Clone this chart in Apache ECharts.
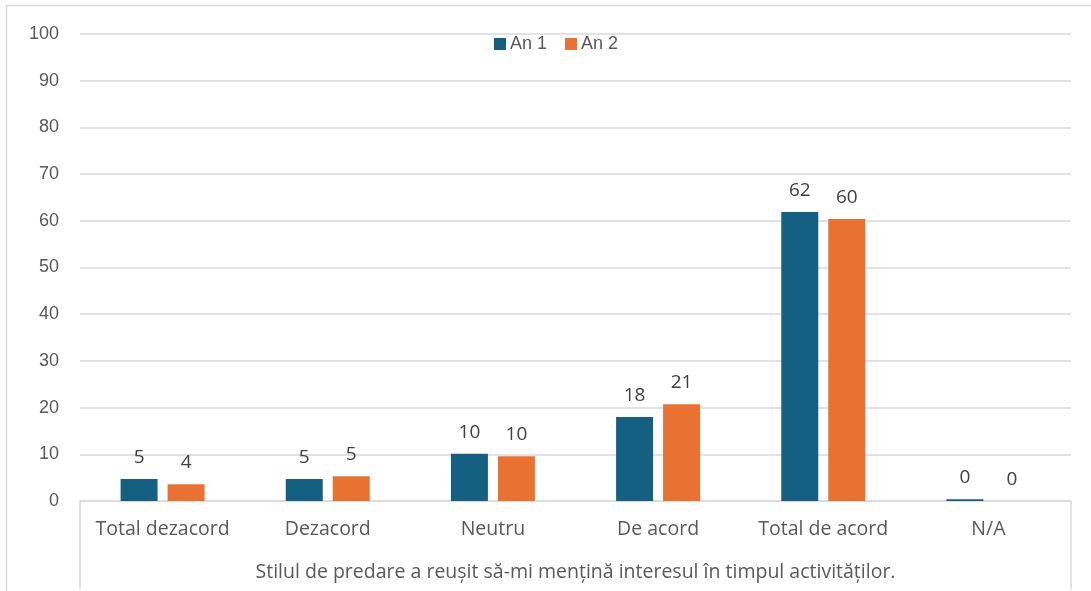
<!DOCTYPE html>
<html><head><meta charset="utf-8">
<script src="https://cdn.jsdelivr.net/npm/echarts@6/dist/echarts.min.js"></script>
<style>html,body{margin:0;padding:0;background:#fff}#c{width:1091px;height:591px}</style>
</head><body><div id="c"></div>
<script>
const categories = ['Total dezacord', 'Dezacord', 'Neutru', 'De acord', 'Total de acord', 'N/A'];
const groupLabel = ['Stilul de predare a reușit să-mi mențină interesul în timpul activităților.'];
const seriesNames = ['An 1', 'An 2'];
const an1 = [4.7, 4.7, 10.1, 18.0, 61.9, 0.4];
const an2 = [3.6, 5.3, 9.6, 20.7, 60.4, 0];
const yMin = 0, yMax = 100, yInterval = 10;

const FONT = '"Liberation Sans", Arial, sans-serif';
const FONT2 = '"Open Sans", Lato, sans-serif';
const chart = echarts.init(document.getElementById('c'));
const lbl = {
  show: true, position: 'top', distance: 12,
  fontSize: 19, color: '#404040', fontFamily: FONT2,
  formatter: p => String(Math.round(p.value))
};
chart.setOption({
  animation: false,
  backgroundColor: '#fff',
  graphic: [{
    type: 'rect', silent: true, z: -1,
    shape: { x: 6.5, y: 5.5, width: 1200, height: 700 },
    style: { fill: 'none', stroke: '#d9d9d9', lineWidth: 1.5 }
  }],
  legend: {
    top: 30, left: 489, itemWidth: 12, itemHeight: 12, itemGap: 18,
    icon: 'rect',
    textStyle: { fontSize: 18, color: '#595959', fontFamily: FONT, padding: [0, 0, 0, -1] },
    data: seriesNames
  },
  grid: { left: 80, right: 20, top: 34, bottom: 90, containLabel: false },
  xAxis: [{
    type: 'category', data: categories,
    axisLine: { show: false }, axisTick: { show: false },
    axisLabel: { fontSize: 19.5, color: '#595959', margin: 18, fontFamily: FONT2, interval: 0 }
  }, {
    type: 'category', data: groupLabel, position: 'bottom',
    axisLine: { show: true, lineStyle: { color: '#d9d9d9', width: 1.5 } },
    axisTick: { show: true, length: 88, alignWithLabel: false, lineStyle: { color: '#d9d9d9', width: 1.5 } },
    axisLabel: { fontSize: 19.5, color: '#595959', margin: 61, fontFamily: FONT2 }
  }],
  yAxis: {
    type: 'value', min: yMin, max: yMax, interval: yInterval,
    axisLine: { show: false }, axisTick: { show: false },
    splitLine: { lineStyle: { color: '#d9d9d9', width: 1.5 } },
    axisLabel: { fontSize: 18, color: '#595959', margin: 21, fontFamily: FONT }
  },
  series: [{
    name: seriesNames[0], type: 'bar', data: an1, xAxisIndex: 0,
    barWidth: 37, barGap: '27%', itemStyle: { color: '#156082' }, label: lbl
  }, {
    name: seriesNames[1], type: 'bar', data: an2, xAxisIndex: 0,
    barWidth: 37, barGap: '27%', itemStyle: { color: '#E97132' }, label: lbl
  }]
});
</script></body></html>
